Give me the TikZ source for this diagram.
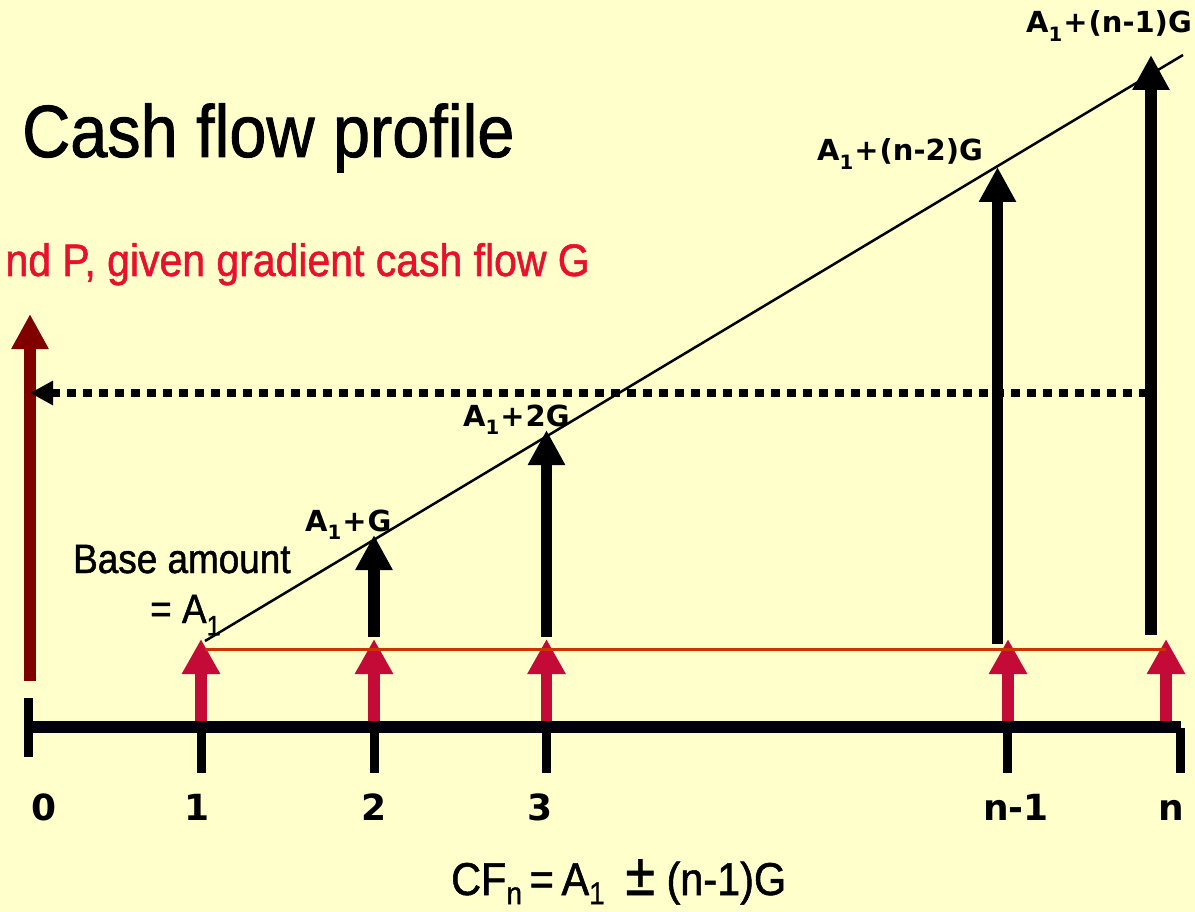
\documentclass[tikz,border=0pt]{standalone}
\usepackage{fontspec}
\usepackage{graphicx}
\usetikzlibrary{arrows.meta}
\newfontfamily\narrowfont[FakeStretch=0.9,FakeBold=1.2]{Liberation Sans}
\newfontfamily\wideb{DejaVu Sans}
\definecolor{bg}{HTML}{FFFFCC}
\definecolor{crim}{HTML}{C40A36}
\definecolor{maroonc}{HTML}{800000}
\definecolor{orng}{HTML}{CC3300}
\definecolor{redtxt}{HTML}{E8112D}
\newcommand\lowsub[1]{\raisebox{-0.3em}{\scalebox{0.68}{#1}}}
\newcommand\fsub[1]{\raisebox{-0.2em}{\scalebox{0.68}{#1}}}
\tikzset{
  axisline/.style={line width=12.5pt, color=black!95!blue},
  tickline/.style={line width=9pt, black},
  redarr/.style={crim, line width=11.7pt, -{Triangle[length=35pt,width=36pt]}},
  blkarr/.style={black, line width=11.7pt, -{Triangle[length=35pt,width=35pt]}},
  parr/.style={maroonc, line width=11.7pt, -{Triangle[length=35pt,width=35pt]}},
  dotarr/.style={black, line width=8pt, dash pattern=on 9pt off 7pt, -{Triangle[length=23pt,width=23pt]}},
  lbl/.style={inner sep=0pt, font=\wideb\bfseries\fontsize{29}{29}\selectfont},
  ticklbl/.style={inner sep=0pt, anchor=base, font=\wideb\bfseries\fontsize{36}{36}\selectfont},
  nar/.style={inner sep=0pt, anchor=base west}
}
\begin{document}
\begin{tikzpicture}[x=1pt,y=-1pt]
\fill[bg] (0,0) rectangle (1195,912);
\useasboundingbox (0,0) rectangle (1195,912);

% title and subtitle
\node[nar, font=\narrowfont\fontsize{74}{74}\selectfont] (title) at (22,157) {Cash flow profile};
\node[nar, anchor=base east, text=redtxt, font=\narrowfont\fontsize{45.5}{45.5}\selectfont] (sub) at (590,276) {nd P, given gradient cash flow G};

% time axis
\coordinate (ax0) at (24,727);
\coordinate (axn) at (1181,727);
\draw[axisline] (ax0) -- (axn);
\coordinate (t0a) at (28.5,698); \coordinate (t0b) at (28.5,757);
\draw[tickline] (t0a) -- (t0b);
\foreach \nm/\x in {t1/201.5,t2/374,t3/546,t4/1007.5,t5/1180.5}{
  \coordinate (\nm a) at (\x,728);
  \coordinate (\nm b) at (\x,773);
  \draw[tickline] (\nm a) -- (\nm b);
}

% present worth arrow and dotted arrow
\coordinate (pb) at (30,681);
\coordinate (pt) at (30,314);
\draw[parr] (pb) -- (pt);
\coordinate (ds) at (1148,393);
\coordinate (de) at (30,393);
\draw[dotarr] (ds) -- (de);

% base amount arrows
\foreach \nm/\x in {r1/201,r2/374,r3/546.5,r4/1008,r5/1166}{
  \coordinate (\nm b) at (\x,721);
  \coordinate (\nm t) at (\x,639);
  \draw[redarr] (\nm b) -- (\nm t);
}
\coordinate (os) at (205,649);
\coordinate (oe) at (1166,649);
\draw[orng, line width=3pt] (os) -- (oe);

% gradient arrows
\coordinate (b2b) at (374,637);   \coordinate (b2t) at (374,535);
\coordinate (b3b) at (546.5,637); \coordinate (b3t) at (546.5,430);
\coordinate (b4b) at (997.5,644); \coordinate (b4t) at (997.5,167);
\coordinate (b5b) at (1151,635);  \coordinate (b5t) at (1151,55);
\draw[blkarr] (b2b) -- (b2t);
\draw[blkarr] (b3b) -- (b3t);
\draw[blkarr] (b4b) -- (b4t);
\draw[blkarr] (b5b) -- (b5t);

% gradient line
\coordinate (gs) at (205,641);
\coordinate (ge) at (1183,55);
\draw[black, line width=2.5pt] (gs) -- (ge);

% labels on arrows
\node[lbl, anchor=base west] (l2) at (305,531) {A\lowsub{1}\kern1pt+\kern1ptG};
\node[lbl, anchor=base west] (l3) at (463,426) {A\lowsub{1}\kern1pt+\kern1pt2G};
\node[lbl, anchor=base west] (l4) at (817,161) {A\lowsub{1}\kern1pt+\kern1pt(n-2)G};
\node[lbl, anchor=base east] (l5) at (1192,33) {A\lowsub{1}\kern1pt+\kern1pt(n-1)G};

% base amount text
\node[nar, font=\narrowfont\fontsize{41}{41}\selectfont] (base) at (73,573) {Base amount};
\node[nar, font=\narrowfont\fontsize{41}{41}\selectfont] (eqa) at (150,623) {= A\lowsub{1}};

% tick labels
\node[ticklbl] (n0) at (44,820) {0};
\node[ticklbl] (n1) at (197,820) {1};
\node[ticklbl] (n2) at (374,820) {2};
\node[ticklbl] (n3) at (540,820) {3};
\node[ticklbl] (n4) at (1016,820) {n-1};
\node[ticklbl] (n5) at (1171,820) {n};

% formula
\node[nar, font=\narrowfont\fontsize{46}{46}\selectfont] (cf) at (451,895) {CF\fsub{n}\,=\,A\fsub{1}\hspace{0.45em}\scalebox{1.3}{±}\hspace{0.25em}(n-1)G};
\end{tikzpicture}
\end{document}
